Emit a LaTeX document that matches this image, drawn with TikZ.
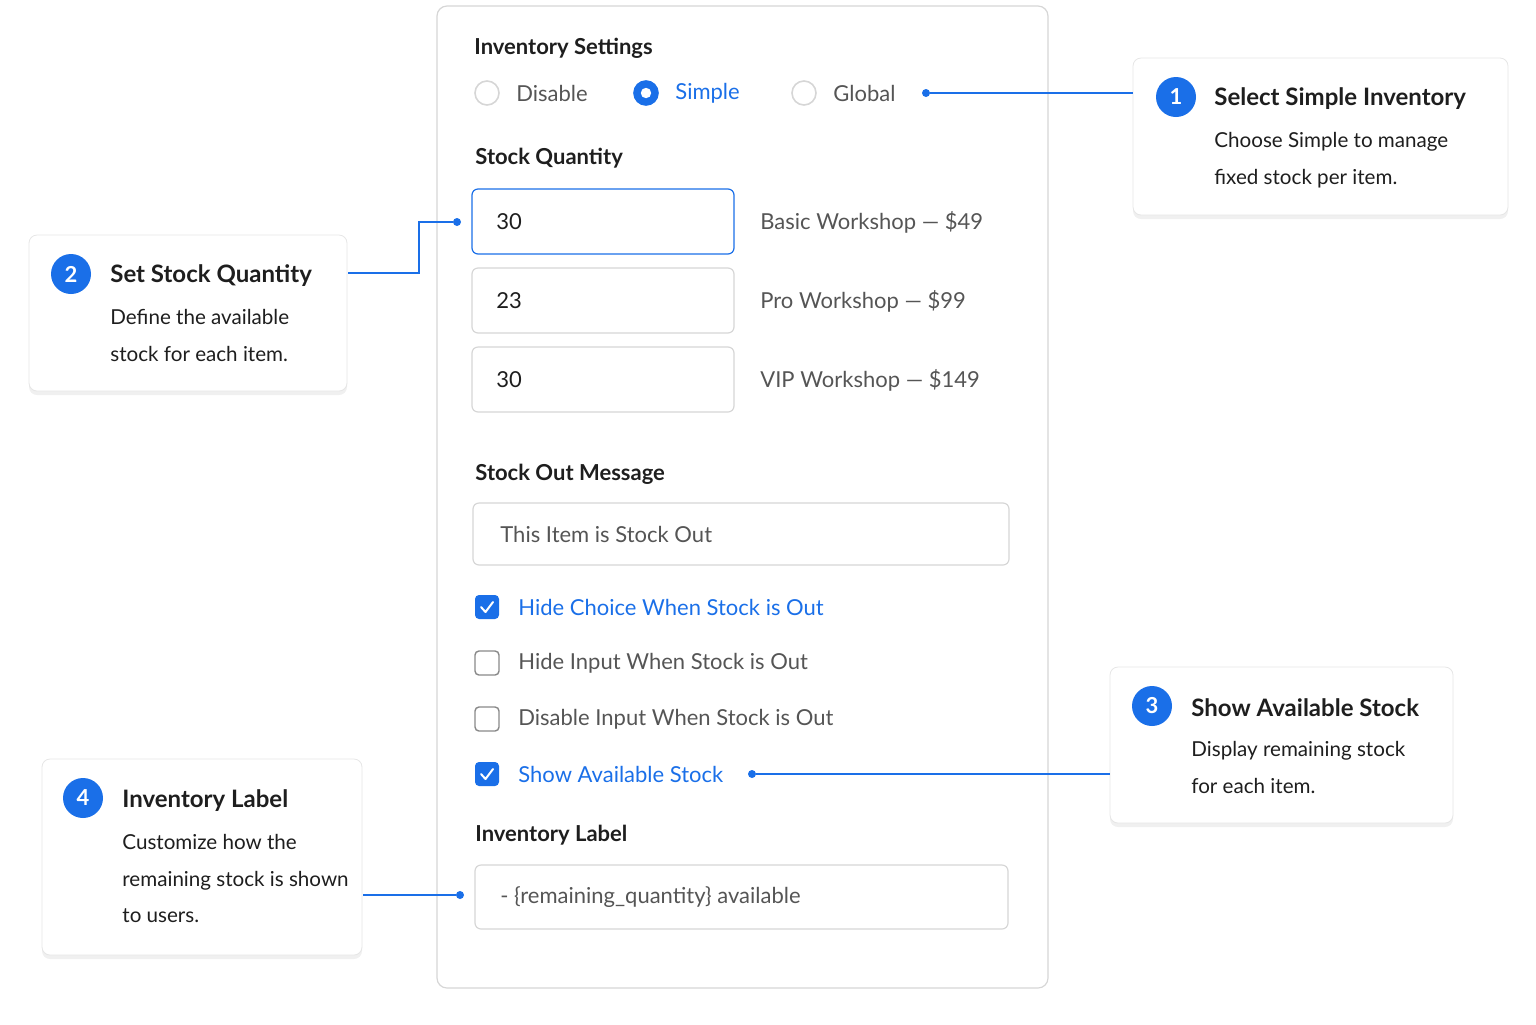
\documentclass[tikz,border=0pt]{standalone}
\usepackage{fontspec}
\setmainfont{Lato}
\usetikzlibrary{shadows,calc}
\definecolor{accent}{HTML}{1A6FE8}
\definecolor{ink}{HTML}{1E1E1E}
\definecolor{soft}{HTML}{555555}
\definecolor{edge}{HTML}{D6D6D6}
\begin{document}
\begin{tikzpicture}[x=0.5pt,y=-0.5pt]
    \tikzset{every node/.style={inner sep=0pt, anchor=west, text=ink},
      head/.style={font=\fontsize{11}{13}\selectfont\bfseries},
      txt/.style={font=\fontsize{11}{13}\selectfont},
      gray/.style={txt, text=soft},
      field/.style={draw=edge, rounded corners=3pt, line width=0.6pt},
      card/.style={draw=edge!60, fill=white, rounded corners=4pt,
                   drop shadow={opacity=0.12, shadow xshift=0pt, shadow yshift=-2pt}},
      badge/.style={circle, fill=accent, minimum size=20pt, anchor=center,
                    text=white, font=\fontsize{11}{13}\selectfont\bfseries},
      ctitle/.style={font=\fontsize{12}{14}\selectfont\bfseries},
      cbody/.style={font=\fontsize{10.3}{18.3}\selectfont, align=left, anchor=north west},
      link/.style={draw=accent, line width=0.7pt},
      tip/.style={circle, fill=accent, minimum size=4pt, anchor=center}
    }
    \useasboundingbox (0,0) rectangle (1536,1024);
    % the settings panel
    \draw[draw=edge, rounded corners=5pt, line width=0.6pt] (437,6) rectangle (1048,988);
    \node[head] (invset) at (474,48) {Inventory Settings};
    \draw[edge, line width=0.8pt] (487,93) circle (6pt);
    \draw[accent, line width=0.8pt, fill=accent] (646,93) circle (6pt);
    \fill[white] (646,93) circle (2.6pt);
    \draw[edge, line width=0.8pt] (804,93) circle (6pt);
    \node[txt, text=soft] (rdis) at (516,93) {Disable};
    \node[txt, text=accent] (rsim) at (675,93) {Simple};
    \node[txt, text=soft] (rglo) at (833,93) {Global};
    \node[tip] (d1) at (926,93) {};
    % stock quantity
    \node[head] (stq) at (475,158) {Stock Quantity};
    \draw[field, draw=accent] (472,189) rectangle (734,254);
    \draw[field] (472,268) rectangle (734,333);
    \draw[field] (472,347) rectangle (734,412);
    \foreach \y/\q/\l in {222/30/Basic Workshop — \$49, 301/23/Pro Workshop — \$99, 380/30/VIP Workshop — \$149}{
      \node[txt] at (496,\y) {\q};
      \node[gray] at (760,\y) {\l};
    }
    \node[tip] (d2) at (457,222) {};
    % stock out message
    \node[head] (som) at (475,474) {Stock Out Message};
    \draw[field] (473,503) rectangle (1009,565);
    \node[gray] (msg) at (500,534) {This Item is Stock Out};
    % check boxes
    \foreach \y/\t/\on in {607/Hide Choice When Stock is Out/1, 663/Hide Input When Stock is Out/0,
                          719/Disable Input When Stock is Out/0, 774/Show Available Stock/1}{
      \ifnum\on=1
        \fill[accent, rounded corners=2pt] (475,\y-12) rectangle (499,\y+12);
        \draw[white, line width=1pt, line cap=round, line join=round] (481,\y) -- (485.5,\y+5) -- (493,\y-5);
        \node[txt, text=accent] at (518,\y) {\t};
      \else
        \draw[soft!70, line width=0.7pt, rounded corners=2pt] (475,\y-12) rectangle (499,\y+12);
        \node[txt, text=soft] at (518,\y) {\t};
      \fi
    }
    \node[tip] (d3) at (752,774) {};
    % inventory label
    \node[head] (ilab) at (475,835) {Inventory Label};
    \draw[field] (475,865) rectangle (1008,929);
    \node[gray] (tmpl) at (500,897) {- \{remaining\_quantity\} available};
    \node[tip] (d4) at (460,895) {};
    % callout cards
    \draw[card] (1133,58) rectangle (1508,215);
    \coordinate (c1) at (1133,93);
    \node[badge] at (1176,97) {1};
    \node[ctitle] at (1214,99) {Select Simple Inventory};
    \node[cbody] at (1214,132) {Choose Simple to manage\\fixed stock per item.};
    \draw[card] (29,235) rectangle (347,391);
    \coordinate (c2) at (348,273);
    \node[badge] at (71,274) {2};
    \node[ctitle] at (110,276) {Set Stock Quantity};
    \node[cbody] at (110,309) {Define the available\\stock for each item.};
    \draw[card] (1110,667) rectangle (1453,823);
    \coordinate (c3) at (1110,774);
    \node[badge] at (1152,706) {3};
    \node[ctitle] at (1191,708) {Show Available Stock};
    \node[cbody] at (1191,741) {Display remaining stock\\for each item.};
    \draw[card] (42,759) rectangle (362,955);
    \coordinate (c4) at (363,895);
    \node[badge] at (83,798) {4};
    \node[ctitle] at (122,801) {Inventory Label};
    \node[cbody] at (122,834) {Customize how the\\remaining stock is shown\\to users.};
    % connectors
    \draw[link] (d1) -- (c1);
    \draw[link] (c2) -- (419,273) -- (419,222) -- (d2);
    \draw[link] (d3) -- (c3);
    \draw[link] (c4) -- (d4);
\end{tikzpicture}
\end{document}
